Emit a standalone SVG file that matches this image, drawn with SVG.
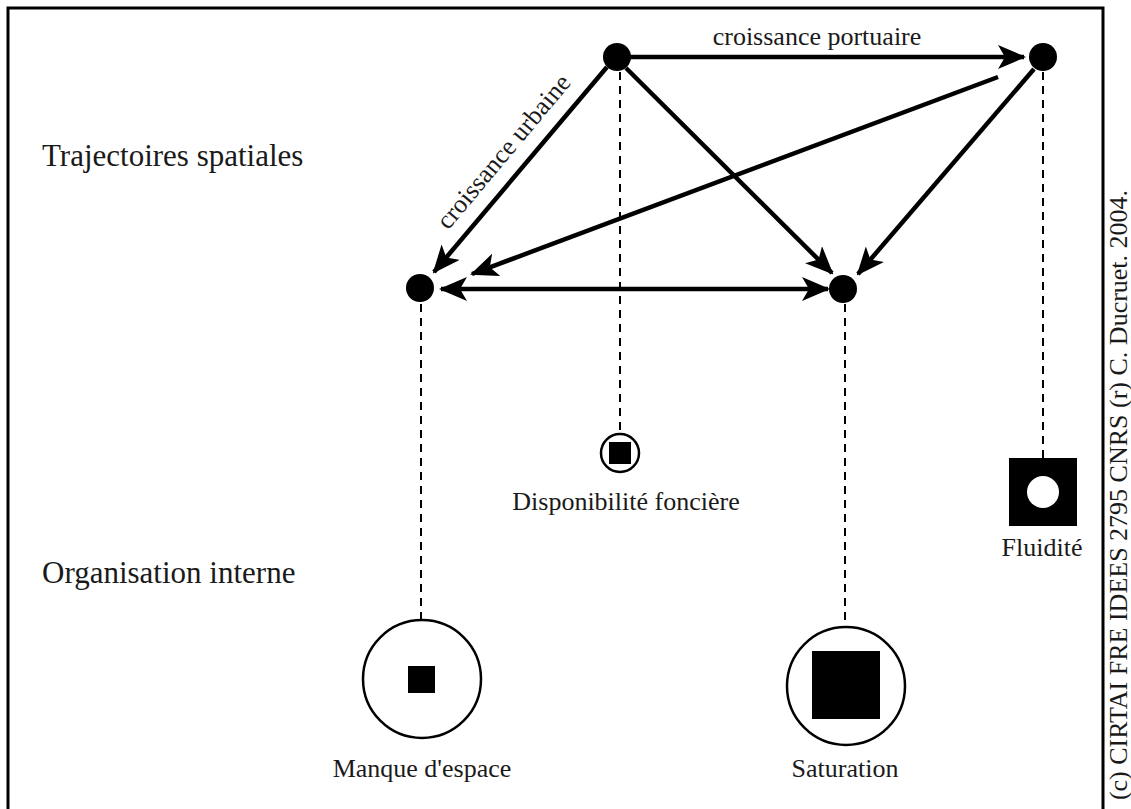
<svg xmlns="http://www.w3.org/2000/svg" width="1131" height="809" viewBox="0 0 1131 809">
<style>
.t{font-family:"Liberation Serif","Times New Roman",serif;fill:#1a1a1a}
.big{font-size:31px}
.lab{font-size:26px}
.arr{stroke:#000;stroke-width:4.5;fill:none}
.dash{stroke:#000;stroke-width:2;stroke-dasharray:8,6;fill:none}
.node{fill:#000}
.ring{fill:#fff;stroke:#000;stroke-width:2.5}
</style>
<defs>
<marker id="ah" viewBox="0 0 28 24" refX="26" refY="12" markerWidth="28" markerHeight="24" markerUnits="userSpaceOnUse" orient="auto-start-reverse">
<path d="M0,0 L28,12 L0,24 L7,12 Z" fill="#000"/>
</marker>
</defs>
<rect x="0" y="0" width="1131" height="809" fill="#fff"/>
<path d="M8,815 L8,8 L1103,8 L1103,815" fill="none" stroke="#000" stroke-width="3"/>
<text class="t big" x="42" y="166">Trajectoires spatiales</text>
<text class="t big" x="42" y="583">Organisation interne</text>
<g id="connectors">
<line class="dash" x1="620" y1="72" x2="620" y2="434"/>
<line class="dash" x1="421" y1="304" x2="421" y2="620"/>
<line class="dash" x1="845" y1="304" x2="845" y2="627"/>
<line class="dash" x1="1043" y1="72" x2="1043" y2="458"/>
<line class="arr" x1="630" y1="57" x2="1024" y2="57" marker-end="url(#ah)"/>
<line class="arr" x1="607" y1="67" x2="434" y2="272" marker-end="url(#ah)"/>
<line class="arr" x1="626" y1="68" x2="832" y2="273" marker-end="url(#ah)"/>
<line class="arr" x1="1034" y1="69" x2="858" y2="274" marker-end="url(#ah)"/>
<line class="arr" x1="998" y1="77" x2="472" y2="274" marker-end="url(#ah)"/>
<line class="arr" x1="441" y1="289" x2="828" y2="289" marker-start="url(#ah)" marker-end="url(#ah)"/>
<text class="t lab" x="817" y="45" text-anchor="middle">croissance portuaire</text>
<text class="t lab" transform="translate(510,157) rotate(-50)" text-anchor="middle">croissance urbaine</text>
</g>
<g id="n-A"><circle class="node" cx="617" cy="57" r="14"/></g>
<g id="n-B"><circle class="node" cx="1043" cy="57" r="14"/></g>
<g id="n-C"><circle class="node" cx="420" cy="288" r="14"/></g>
<g id="n-D"><circle class="node" cx="843" cy="289" r="14"/></g>
<g id="disponibilite">
<circle class="ring" cx="620" cy="453" r="19"/>
<rect x="609" y="442" width="22" height="22" fill="#000"/>
<text class="t lab" x="626" y="510" text-anchor="middle">Disponibilité foncière</text>
</g>
<g id="fluidite">
<rect x="1009" y="458" width="68" height="68" fill="#000"/>
<circle cx="1043" cy="492" r="16" fill="#fff"/>
<text class="t lab" x="1042" y="556" text-anchor="middle">Fluidité</text>
</g>
<g id="manque">
<circle class="ring" cx="422" cy="679" r="59"/>
<rect x="408" y="666" width="27" height="27" fill="#000"/>
<text class="t lab" x="422" y="777" text-anchor="middle">Manque d'espace</text>
</g>
<g id="saturation">
<circle class="ring" cx="846" cy="686" r="59"/>
<rect x="812" y="651" width="68" height="68" fill="#000"/>
<text class="t lab" x="845" y="777" text-anchor="middle">Saturation</text>
</g>
<text class="t lab" transform="translate(1127,495) rotate(-90)" text-anchor="middle">(c) CIRTAI FRE IDEES 2795 CNRS (r) C. Ducruet. 2004.</text>
</svg>
